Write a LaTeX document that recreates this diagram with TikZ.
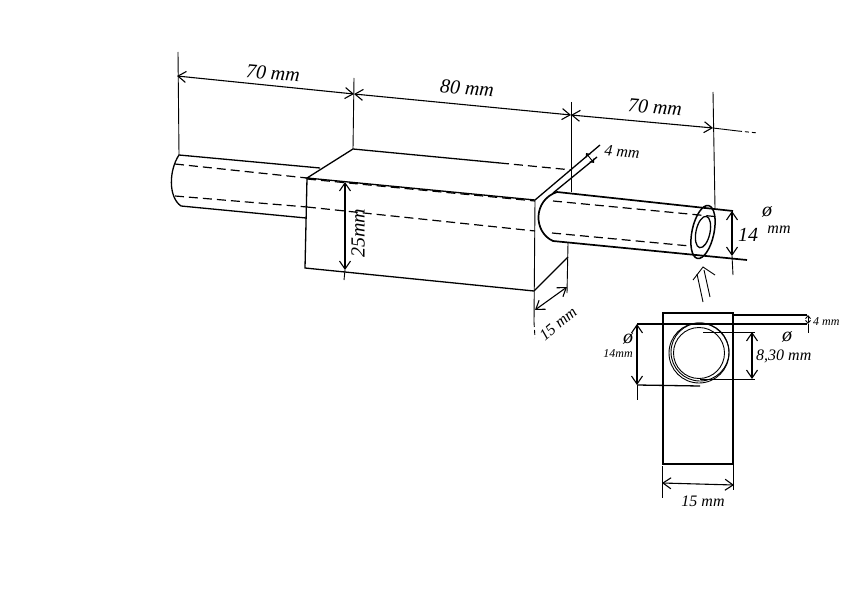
\documentclass[tikz,border=0pt]{standalone}
\usepackage{fontspec}
\setmainfont{Liberation Serif}
\usetikzlibrary{arrows.meta}
\tikzset{
  dimline/.style={black,line width=1.1pt,{Straight Barb[length=8pt,width=11pt]}-{Straight Barb[length=8pt,width=11pt]}},
  smalldim/.style={black,line width=0.9pt,{Straight Barb[length=3pt,width=5pt]}-{Straight Barb[length=3pt,width=5pt]}},
  edgeline/.style={black,line width=1.3pt},
  thinline/.style={black,line width=0.9pt},
  hidden/.style={black,line width=1.2pt,dash pattern=on 9pt off 5pt},
  bighand/.style={inner sep=0pt,font=\fontsize{20}{20}\selectfont\itshape},
  hand/.style={inner sep=0pt,font=\fontsize{16}{16}\selectfont\itshape},
  smallhand/.style={inner sep=0pt,font=\fontsize{12}{12}\selectfont\itshape}
}
\begin{document}
\begin{tikzpicture}[x=1pt,y=-1pt]
  \useasboundingbox (0,0) rectangle (842,596);
  % top dimensions
  \draw[dimline] (177,76) -- (354,94);
  \draw[dimline] (354,94) -- (571,115);
  \draw[dimline] (571,115) -- (713,128);
  \draw[thinline] (713,128) -- (738,131);
  \draw[thinline,dash pattern=on 4pt off 3pt] (738,131) -- (758,133);
  \draw[thinline] (178,52) -- (179,155);
  \draw[thinline] (354,78) -- (353,149);
  \draw[thinline] (571,102) -- (571,192);
  \draw[thinline] (713,92) -- (715,208);
  \node[bighand,rotate=-5] (lefttext) at (273,73) {70 mm};
  \node[bighand,rotate=-5] (midtext) at (467,88) {80 mm};
  \node[bighand,rotate=-5] (righttext) at (655,107) {70 mm};
  % left tube
  \draw[edgeline] (320,168) -- (179,155) .. controls (169,170) and (168,197) .. (181,206) -- (306,218);
  \draw[hidden] (175,164) -- (307,178);
  \draw[hidden] (175,196) -- (307,207);
  % block
  \draw[edgeline] (535,200) -- (307,178) -- (353,149) -- (500,163);
  \draw[hidden] (500,163) -- (572,170);
  \draw[hidden] (307,179) -- (535,201);
  \draw[edgeline] (307,178) -- (305,268) -- (534,291);
  \draw[hidden] (307,207) -- (535,231);
  \draw[thinline] (535,200) -- (534,322);
  \draw[thinline,dash pattern=on 5pt off 3pt] (534,322) -- (535,338);
  \draw[edgeline] (535,200) -- (600,145);
  \draw[edgeline] (553,193) -- (597,157);
  % right tube
  \draw[edgeline,line width=1.7pt] (733,211) -- (557,192) .. controls (533,200) and (533,232) .. (553,241) -- (747,260);
  \draw[hidden] (553,201) -- (720,217);
  \draw[hidden] (552,233) -- (690,246);
  \draw[edgeline,line width=1.5pt,rotate around={-12:(703,232)}] (703,232) ellipse (11pt and 27pt);
  \draw[edgeline,rotate around={-12:(703,232)}] (703,232) ellipse (7pt and 16pt);
  % small dimensions
  \draw[dimline] (732,211) -- (732,256);
  \draw[thinline] (732,256) -- (733,275);
  \node[bighand] (tubetext) at (748,235) {14};
  \node[hand] (tubemm) at (779,230) {mm};
  \node[bighand] (tubedia) at (767,212) {ø};
  \draw[smalldim] (586,153) -- (594,163);
  \node[hand,rotate=-5] (thicktext) at (622,152) {4 mm};
  \draw[edgeline] (534,291) -- (568,257);
  \draw[thinline] (568,243) -- (567,293);
  \draw[dimline] (535,310) -- (567,287);
  \node[hand,rotate=40] (widetext) at (558,324) {15 mm};
  \draw[dimline] (345,182) -- (345,270);
  \draw[thinline] (345,270) -- (344,280);
  \node[bighand,rotate=90] (hightext) at (358,233) {25mm};
  % arrow to end view
  \draw[thinline] (703,302) -- (697,274);
  \draw[thinline] (710,297) -- (704,270);
  \draw[thinline] (693,280) -- (703,267) -- (715,275);
  % end view
  \draw[edgeline] (663,313) rectangle (733,464);
  \draw[edgeline] (733,315) -- (807,315);
  \draw[edgeline] (637,324) -- (807,324);
  \draw[edgeline] (637,385) -- (700,386);
  \draw[thinline] (703,332) -- (755,332);
  \draw[thinline] (700,379) -- (755,379);
  \draw[thinline] (699,353) circle (30pt);
  \draw[thinline] (700,352) circle (29pt);
  \draw[thinline] (699,353) circle (25.5pt);
  \draw[dimline] (637,324) -- (637,385);
  \draw[thinline] (637,385) -- (637,400);
  \draw[dimline] (752,332) -- (752,379);
  \draw[smalldim] (808,315) -- (808,324);
  \draw[thinline] (808,324) -- (808,333);
  \node[smallhand] (endleft) at (618,354) {14mm};
  \node[bighand] (endleftdia) at (628,339) {ø};
  \node[hand,anchor=west] (endinner) at (756,356) {8,30 mm};
  \node[bighand] (endinnerdia) at (787,337) {ø};
  \node[smallhand,anchor=west] (endthick) at (813,322) {4 mm};
  \draw[dimline] (662,483) -- (734,485);
  \draw[thinline] (662,466) -- (662,498);
  \draw[thinline] (733,464) -- (733,490);
  \node[hand] (endwide) at (703,501) {15 mm};
\end{tikzpicture}
\end{document}
